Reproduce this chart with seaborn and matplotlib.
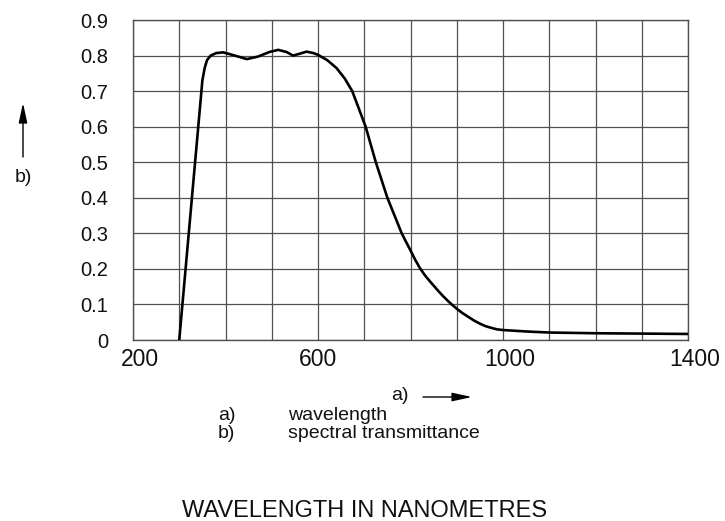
import matplotlib
matplotlib.use("Agg")
import matplotlib.pyplot as plt
import matplotlib.transforms as mtrans
import matplotlib.patches as mpatches
import seaborn as sns
import pandas as pd

# ---- data ----
wavelength = [300, 350, 355, 360, 368, 380, 395, 420, 446, 470, 495, 514, 532, 546, 560, 575,
              590, 600, 620, 640, 658, 674, 690, 703, 725, 750, 781, 790, 800, 810, 820, 830,
              840, 850, 860, 870, 880, 890, 900, 912, 925, 937, 950, 962, 975, 987, 1000,
              1050, 1100, 1200, 1300, 1400]
transmittance = [0.0, 0.73, 0.765, 0.787, 0.80, 0.807, 0.809, 0.80, 0.79, 0.797, 0.81, 0.816,
                 0.81, 0.80, 0.805, 0.811, 0.807, 0.802, 0.787, 0.765, 0.735, 0.70, 0.645,
                 0.60, 0.50, 0.40, 0.30, 0.277, 0.252, 0.226, 0.203, 0.184, 0.168, 0.153,
                 0.138, 0.124, 0.111, 0.099, 0.088, 0.076, 0.065, 0.055, 0.046, 0.039, 0.034,
                 0.030, 0.028, 0.024, 0.021, 0.019, 0.018, 0.017]
x_ticks = [200, 300, 400, 500, 600, 700, 800, 900, 1000, 1100, 1200, 1300, 1400]
x_tick_labels = ["200", "", "", "", "600", "", "", "", "1000", "", "", "", "1400"]
y_ticks = [0, 0.1, 0.2, 0.3, 0.4, 0.5, 0.6, 0.7, 0.8, 0.9]
y_tick_labels = ["0", "0.1", "0.2", "0.3", "0.4", "0.5", "0.6", "0.7", "0.8", "0.9"]

df = pd.DataFrame({"wavelength": wavelength, "transmittance": transmittance})

sns.set_theme(style="white")
plt.rcParams["font.family"] = ["Liberation Sans", "DejaVu Sans"]

W, H = 725, 521
fig = plt.figure(figsize=(W / 100, H / 100), dpi=100)
ax = fig.add_axes([133 / W, 1 - 340 / H, (688 - 133) / W, (340 - 20) / H])

grid_col = "#505050"
txt = "#111111"
sns.lineplot(data=df, x="wavelength", y="transmittance", ax=ax, color="black", lw=1.9, zorder=3)

ax.set_xlim(200, 1400)
ax.set_ylim(0, 0.9)
ax.set_xticks(x_ticks)
ax.set_xticklabels(x_tick_labels, fontsize=16.5, color=txt)
ax.set_yticks(y_ticks)
ax.set_yticklabels(y_tick_labels, fontsize=14.5, color=txt)
ax.tick_params(axis="x", length=0, pad=6)
ax.tick_params(axis="y", length=0, pad=18)
ax.grid(True, color=grid_col, lw=0.9)
for s in ax.spines.values():
    s.set_visible(True)
    s.set_color(grid_col)
    s.set_linewidth(1.0)
ax.set_xlabel("")
ax.set_ylabel("")

# the printed labels 200 / 1000 / 1400 sit slightly right of their grid lines
shift = mtrans.ScaledTranslation(7 / 100, 0, fig.dpi_scale_trans)
for lbl in ax.get_xticklabels():
    if lbl.get_text() in ("200", "1000", "1400"):
        lbl.set_transform(lbl.get_transform() + shift)


def fx(x):
    return x / W


def fy(y):
    return 1 - y / H


# b) label and upward arrow
fig.text(fx(23), fy(177), "b)", fontsize=14, ha="center", va="center", color=txt)
fig.patches.append(mpatches.FancyArrowPatch(
    (fx(23), fy(157)), (fx(23), fy(103)), transform=fig.transFigure,
    arrowstyle="-|>,head_length=12,head_width=2.6", color="black", lw=1.0,
    shrinkA=0, shrinkB=0))

# a) label and right arrow
fig.text(fx(400), fy(396), "a)", fontsize=14, ha="center", va="center", color=txt)
fig.patches.append(mpatches.FancyArrowPatch(
    (fx(423), fy(397)), (fx(472), fy(397)), transform=fig.transFigure,
    arrowstyle="-|>,head_length=12,head_width=2.6", color="black", lw=1.0,
    shrinkA=0, shrinkB=0))

# legend text
fig.text(fx(218), fy(416), "a)", fontsize=14, ha="left", va="center", color=txt)
fig.text(fx(288), fy(416), "wavelength", fontsize=14, ha="left", va="center", color=txt)
fig.text(fx(218), fy(433), "b)", fontsize=14, ha="left", va="center", color=txt)
fig.text(fx(288), fy(433), "spectral transmittance", fontsize=14, ha="left", va="center", color=txt)

fig.text(fx(365), fy(511), "WAVELENGTH IN NANOMETRES", fontsize=17, ha="center", va="center", color=txt)

fig.savefig("out.png", dpi=100)
